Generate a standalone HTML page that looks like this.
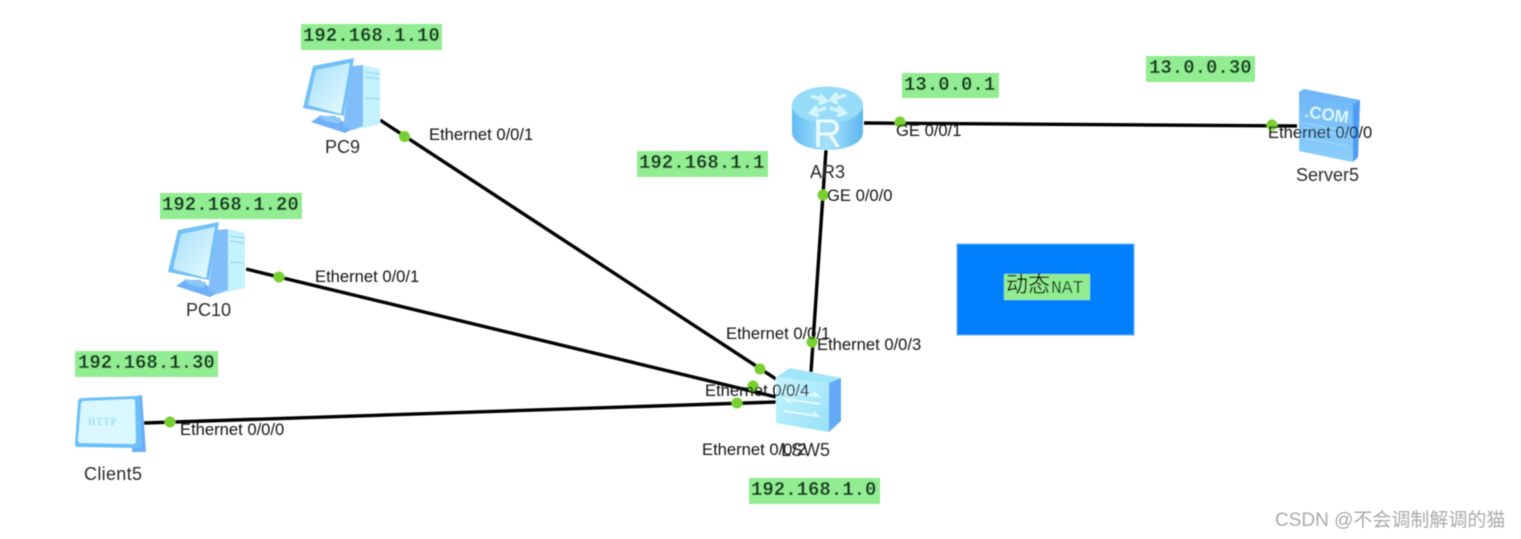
<!DOCTYPE html>
<html>
<head>
<meta charset="utf-8">
<style>
html,body{margin:0;padding:0;background:#fff;width:1521px;height:539px;overflow:hidden}
svg{display:block}
text{font-family:"Liberation Sans","Noto Sans CJK SC",sans-serif}
.l{font-size:16.6px;fill:#151515}
.n{font-size:18px;fill:#2a2a2a}
.m{font-family:"Liberation Mono","DejaVu Sans Mono",monospace;font-size:19px;fill:#123a22;font-weight:bold}
</style>
</head>
<body>
<svg width="1521" height="539" viewBox="0 0 1521 539" xmlns="http://www.w3.org/2000/svg">
<defs>
<filter id="b" x="-5%" y="-5%" width="110%" height="110%"><feGaussianBlur stdDeviation="0.55"/></filter>
<linearGradient id="r" x1="0" x2="1" y1="0" y2="0"><stop offset="0" stop-color="#62bdf5"/><stop offset="0.5" stop-color="#a8e2fb"/><stop offset="1" stop-color="#5cb6f2"/></linearGradient>
<linearGradient id="scr" x1="0" x2="1" y1="0" y2="1"><stop offset="0" stop-color="#a5def9"/><stop offset="1" stop-color="#e8fcff"/></linearGradient>
<linearGradient id="sf" x1="0" x2="1" y1="0" y2="1"><stop offset="0" stop-color="#c5f3fd"/><stop offset="1" stop-color="#96e0f8"/></linearGradient>
<linearGradient id="sv" x1="0" x2="0" y1="0" y2="1"><stop offset="0" stop-color="#6fb6f8"/><stop offset="1" stop-color="#8cd0fa"/></linearGradient>
<g id="pc">
<polygon points="8,64 17,58 32,58 50,71 42,75" fill="#6fb0f8"/>
<polygon points="40,68 49,8 60,7 60,68 50,72" fill="#80bdf9"/>
<polygon points="60,7 77,11 77,66 50,72 60,68" fill="#c3f1fc"/>
<line x1="62" y1="14" x2="76" y2="16" stroke="#8fd0ee" stroke-width="1"/>
<line x1="62" y1="19" x2="76" y2="21" stroke="#8fd0ee" stroke-width="1"/>
<line x1="62" y1="40" x2="76" y2="41" stroke="#8fd0ee" stroke-width="1"/>
<polygon points="0,50 10,8 51,0 41,58" fill="#72c0f8"/>
<polygon points="5,47 13,12 47,5 38,56" fill="url(#scr)"/>
<polygon points="16,57 38,60 36,66 20,62" fill="#8dc8fa"/>
</g>
</defs>
<rect width="1521" height="539" fill="#fff"/>
<g filter="url(#b)">
<g fill="#92ed92">
<rect x="301" y="24" width="141" height="26"/>
<rect x="160" y="193" width="142" height="26"/>
<rect x="75" y="351" width="143" height="26"/>
<rect x="637" y="151" width="131" height="26"/>
<rect x="902" y="73" width="97" height="25"/>
<rect x="1146" y="56" width="109" height="26"/>
<rect x="749" y="478" width="131" height="26"/>
</g>
<rect x="957" y="244" width="177" height="91" fill="#0080fc" stroke="#5fb0fb" stroke-width="1"/>
<rect x="1004" y="274" width="86" height="26" fill="#92ed92"/>
<g stroke="#000" stroke-width="3.4" fill="none">
<line x1="380" y1="120" x2="776" y2="379"/>
<line x1="246" y1="269" x2="776" y2="397"/>
<line x1="144" y1="423" x2="776" y2="402"/>
<line x1="826" y1="150" x2="811" y2="372"/>
<line x1="864" y1="123" x2="1297" y2="126"/>
</g>
<use href="#pc" x="303" y="58"/>
<use href="#pc" x="168" y="222"/>
<path d="M136 396 L142 395 L146 452 L132 452 Z" fill="#6aaef8"/>
<path d="M82 398 L137 396 Q140 396 140 399 L142 444 Q142 448 138 448 L78 447 Q74 447 75 443 L78 402 Q78 398 82 398 Z" fill="#6cc0f8"/>
<path d="M84 401 L133 399 Q135 399 135 402 L136 441 Q136 444 133 444 L81 443 Q78 443 78 440 L81 404 Q81 401 84 401 Z" fill="#d8f7fe"/>
<text x="88" y="425" font-size="10" fill="#7fd0ee" letter-spacing="1" style="font-family:'Liberation Serif',serif">HTTP</text>
<path d="M792 105 V132 C792 156 863 156 863 132 V105 Z" fill="url(#r)"/>
<ellipse cx="827.5" cy="105" rx="35.5" ry="18.5" fill="#96dcf9"/>
<g stroke="#d5f5fd" stroke-width="3.5" fill="none">
<path d="M811 96 L826 101 M820 95 L826 101 L819 104"/>
<path d="M846 95 L831 100 M837 93 L831 100 L838 103"/>
<path d="M811 113 L826 108 M817 106 L811 113 L819 116"/>
<path d="M845 113 L830 108 M838 106 L845 113 L837 116"/>
</g>
<text x="813" y="147" style="font-size:40px" fill="#e9fbff">R</text>
<polygon points="1304,89 1360,100 1358,157 1353,162 1299,151 1299,92" fill="#6fb6f8"/>
<polygon points="1299,93 1353,104 1353,162 1299,151" fill="url(#sv)"/>
<polygon points="1353,104 1360,100 1358,157 1353,162" fill="#4f9df2"/>
<text x="1304" y="117" transform="rotate(8 1304 117)" style="font-size:17px;font-weight:bold" fill="#d9f5fe">.COM</text>
<g stroke="#a5dcf9" stroke-width="1"><line x1="1304" y1="123" x2="1348" y2="131"/><line x1="1304" y1="128" x2="1348" y2="136"/><line x1="1304" y1="138" x2="1348" y2="146"/></g>
<polygon points="776,377 790,368 841,378 829,383" fill="#9fe6fb"/>
<polygon points="776,377 829,383 829,432 776,423" fill="url(#sf)"/>
<polygon points="829,383 841,378 841,421 829,432" fill="#64a9f6"/>
<g stroke="#e6fbff" stroke-width="1.8" fill="none">
<path d="M784 391 L818 396 L813 392"/>
<path d="M820 404 L786 399 L791 403"/>
<path d="M784 411 L818 416 L813 412"/>
</g>
<g fill="#78cf33">
<circle cx="404.500" cy="136.500" r="5.500"/>
<circle cx="279" cy="277" r="5.500"/>
<circle cx="170" cy="422" r="5.500"/>
<circle cx="760" cy="369" r="5.500"/>
<circle cx="753" cy="386" r="5.500"/>
<circle cx="737" cy="403" r="5.500"/>
<circle cx="812" cy="342" r="5.500"/>
<circle cx="823" cy="195" r="5.500"/>
<circle cx="900" cy="122" r="5.500"/>
<circle cx="1272" cy="125" r="5.500"/>
</g>
<text class="l" x="429" y="140">Ethernet 0/0/1</text>
<text class="l" x="315" y="282">Ethernet 0/0/1</text>
<text class="l" x="180" y="435">Ethernet 0/0/0</text>
<text class="l" x="726" y="339">Ethernet 0/0/1</text>
<text class="l" x="817" y="350">Ethernet 0/0/3</text>
<text class="l" x="705" y="396">Ethernet 0/0/4</text>
<text class="l" x="702" y="455">Ethernet 0/0/2</text>
<text class="l" x="827" y="201">GE 0/0/0</text>
<text class="l" x="896" y="136">GE 0/0/1</text>
<text class="l" x="1268" y="138">Ethernet 0/0/0</text>
<text class="n" x="325" y="153">PC9</text>
<text class="n" x="186" y="316">PC10</text>
<text class="n" x="84" y="480" textLength="58">Client5</text>
<text class="n" x="810" y="178">AR3</text>
<text class="n" x="1296" y="181">Server5</text>
<text class="n" x="781" y="456">LSW5</text>
<text class="m" x="303" y="41">192.168.1.10</text>
<text class="m" x="162" y="210">192.168.1.20</text>
<text class="m" x="78" y="368">192.168.1.30</text>
<text class="m" x="639" y="168">192.168.1.1</text>
<text class="m" x="904" y="90">13.0.0.1</text>
<text class="m" x="1149" y="73">13.0.0.30</text>
<text class="m" x="751" y="495">192.168.1.0</text>
<text x="1006" y="292" style="font-size:22px" fill="#111">动态</text>
<text x="1051" y="293" style="font-family:'Liberation Mono',monospace;font-size:18px" fill="#174a2a">NAT</text>
<text x="1275" y="526" style="font-size:19px" fill="#aaaaaa">CSDN @不会调制解调的猫</text>
</g>
</svg>
</body>
</html>
